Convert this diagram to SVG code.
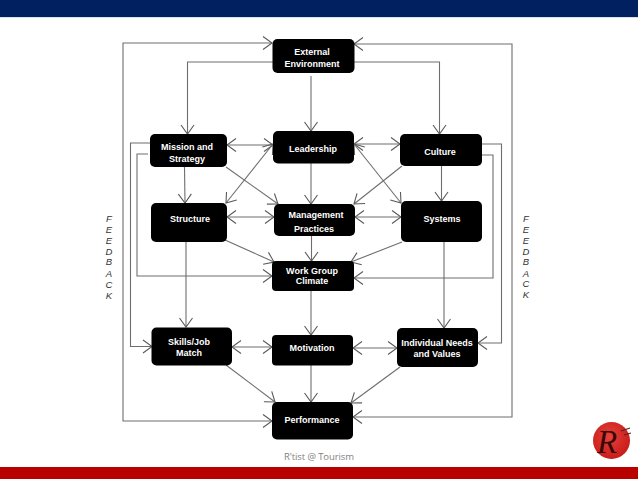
<svg xmlns="http://www.w3.org/2000/svg" width="638" height="479" viewBox="0 0 638 479">
<defs>
<marker id="a" markerUnits="userSpaceOnUse" markerWidth="16" markerHeight="16" refX="14" refY="8" orient="auto-start-reverse" overflow="visible"><path d="M5 1.500L14 8L5 14.500" fill="none" stroke="#5a5a5a" stroke-width="1.100"/></marker>
<radialGradient id="logo" cx="0.45" cy="0.4" r="0.65"><stop offset="0" stop-color="#e8403a"/><stop offset="1" stop-color="#c41a18"/></radialGradient>
</defs>
<style>
.n{fill:#000}
.t{font:bold 9px "Liberation Sans",Arial,sans-serif;fill:#fff;text-anchor:middle}
.c path{fill:none;stroke:#6e6e6e;stroke-width:1.100}
.e{marker-end:url(#a)}
.b{marker-start:url(#a);marker-end:url(#a)}
.f{font:italic 9.500px "Liberation Sans",Arial,sans-serif;fill:#333;text-anchor:middle}
</style>
<rect width="638" height="479" fill="#fff"/>
<rect width="638" height="17" fill="#00205f"/>
<rect y="17" width="638" height="1" fill="#d5e3e8"/>
<rect y="467" width="638" height="12" fill="#b80000"/>
<g class="c" id="connectors">
<path class="b" d="M272 421H123V43H272"/>
<path class="b" d="M354 44H512V417H353"/>
<path class="e" d="M273 62H187.500V134"/>
<path class="e" d="M354 62H439.500V134"/>
<path class="e" d="M311 76V131"/>
<path class="b" d="M227 145H273"/>
<path class="b" d="M354 144H400"/>
<path class="b" d="M273 144L226 203"/>
<path class="b" d="M354 144L401 203"/>
<path class="e" d="M226 167L278 204"/>
<path class="e" d="M402 166L354 204"/>
<path class="e" d="M311 163V204"/>
<path class="e" d="M184.500 167L185 203"/>
<path class="e" d="M441.500 166V201"/>
<path class="b" d="M227 217H274"/>
<path class="b" d="M355 217H401"/>
<path class="e" d="M311.500 236V261"/>
<path class="e" d="M225 240L274 262"/>
<path class="e" d="M402 242L351 262"/>
<path class="e" d="M186 242V327"/>
<path class="e" d="M444 242V328"/>
<path class="e" d="M311 291V335"/>
<path class="b" d="M232 347H272"/>
<path class="b" d="M353 348H397"/>
<path class="e" d="M311 365V402"/>
<path class="e" d="M226 365L275 402"/>
<path class="e" d="M400 367L351 403"/>
<path class="e" d="M150 143H130.500V346.500H152"/>
<path class="e" d="M148 154H137V276H272"/>
<path class="e" d="M482 144H501.500V343H478"/>
<path class="e" d="M482 155H493V278H354"/>
</g>
<g id="external"><rect class="n" x="272.500" y="39" width="82" height="34" rx="5"/><text class="t" x="312" y="55">External</text><text class="t" x="312" y="67">Environment</text></g>
<g id="mission"><rect class="n" x="150" y="134" width="77" height="33" rx="5"/><text class="t" x="187" y="150">Mission and</text><text class="t" x="187" y="162">Strategy</text></g>
<g id="leadership"><rect class="n" x="273" y="131" width="81" height="32.500" rx="5"/><text class="t" x="313" y="152">Leadership</text></g>
<g id="culture"><rect class="n" x="400" y="134" width="82" height="32" rx="5"/><text class="t" x="440" y="155">Culture</text></g>
<g id="structure"><rect class="n" x="151" y="203" width="76" height="39" rx="5"/><text class="t" x="190" y="222">Structure</text></g>
<g id="management"><rect class="n" x="274" y="204" width="81" height="32" rx="5"/><text class="t" x="316" y="218">Management</text><text class="t" x="314" y="232">Practices</text></g>
<g id="systems"><rect class="n" x="401" y="201" width="81" height="41" rx="5"/><text class="t" x="442" y="222">Systems</text></g>
<g id="workgroup"><rect class="n" x="272" y="261" width="82" height="30" rx="4"/><text class="t" x="312" y="274">Work Group</text><text class="t" x="312" y="284">Climate</text></g>
<g id="skills"><rect class="n" x="151.500" y="327.500" width="80.500" height="38" rx="5"/><text class="t" x="189" y="345">Skills/Job</text><text class="t" x="189" y="356">Match</text></g>
<g id="motivation"><rect class="n" x="272" y="335" width="81" height="30.500" rx="4"/><text class="t" x="312" y="351">Motivation</text></g>
<g id="individual"><rect class="n" x="397" y="328" width="81" height="39" rx="5"/><text class="t" x="437" y="346">Individual Needs</text><text class="t" x="437" y="357">and Values</text></g>
<g id="performance"><rect class="n" x="272" y="402" width="81" height="37.500" rx="5"/><text class="t" x="312" y="423">Performance</text></g>
<g id="feedback-left"><text class="f" x="109" y="222">F</text><text class="f" x="109" y="233">E</text><text class="f" x="109" y="244">E</text><text class="f" x="109" y="255">D</text><text class="f" x="109" y="265">B</text><text class="f" x="109" y="277">A</text><text class="f" x="109" y="288">C</text><text class="f" x="109" y="299">K</text></g>
<g id="feedback-right"><text class="f" x="526" y="222">F</text><text class="f" x="526" y="233">E</text><text class="f" x="526" y="244">E</text><text class="f" x="526" y="255">D</text><text class="f" x="526" y="265">B</text><text class="f" x="526" y="277">A</text><text class="f" x="526" y="287">C</text><text class="f" x="526" y="298">K</text></g>
<text x="284" y="460" font-family="'Open Sans','Liberation Sans',sans-serif" font-size="9.500" fill="#7f7f7f" textLength="70">R'tist @ Tourism</text>
<g id="logo"><circle cx="611.500" cy="440.500" r="18.500" fill="url(#logo)"/><text x="607" y="453" font-family="'Liberation Serif',serif" font-style="italic" font-size="33" fill="#3a0a0a" text-anchor="middle">R</text><path d="M621 431L630 428M624 435L631 433" fill="none" stroke="#5a2020" stroke-width="1.200"/></g>
</svg>
